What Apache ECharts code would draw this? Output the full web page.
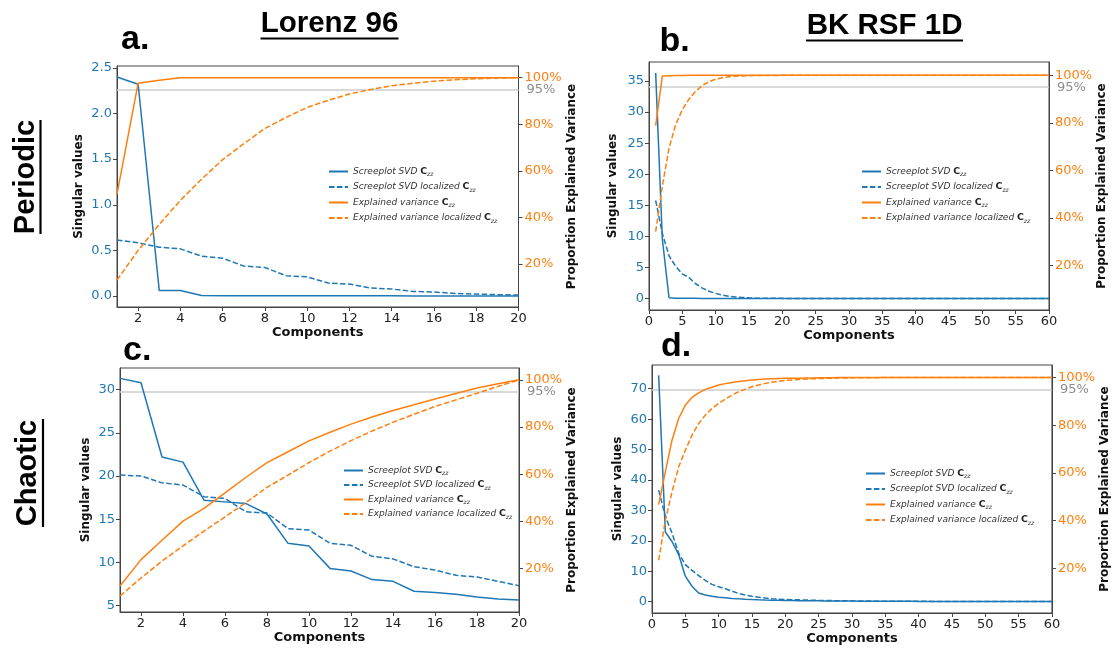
<!DOCTYPE html>
<html><head><meta charset="utf-8">
<script src="https://cdn.jsdelivr.net/npm/echarts@6/dist/echarts.min.js"></script>
<style>html,body{margin:0;padding:0;background:#fff}#chart{width:1112px;height:650px}</style>
</head><body><div id="chart"></div>
<script>
// ---------------- DATA ----------------
const compA = [1,2,3,4,5,6,7,8,9,10,11,12,13,14,15,16,17,18,19,20];
const compB = [1,2,3,4,5,6,7,8,9,10,11,12,13,14,15,16,17,18,19,20,21,22,23,24,25,26,27,28,29,30,
               31,32,33,34,35,36,37,38,39,40,41,42,43,44,45,46,47,48,49,50,51,52,53,54,55,56,57,58,59,60];

const columnTitles = ['Lorenz 96', 'BK RSF 1D'];
const rowTitles = ['Periodic', 'Chaotic'];
const panelLetters = ['a.', 'b.', 'c.', 'd.'];
const legendLabels = ['Screeplot SVD ', 'Screeplot SVD localized ', 'Explained variance ', 'Explained variance localized '];
const xTicks20 = [2,4,6,8,10,12,14,16,18,20];
const pctTicks = [20,40,60,80,100];
const aLeftTicks = [0,0.5,1,1.5,2,2.5];
const bLeftTicks = [0,5,10,15,20,25,30,35];
const cLeftTicks = [5,10,15,20,25,30];
const dLeftTicks = [0,10,20,30,40,50,60,70];

// Panel a: Lorenz 96, periodic
const aSv    = [2.40,2.32,0.06,0.06,0.005,0.004,0.004,0.003,0.003,0.003,0.002,0.002,0.002,0.002,0.001,0.001,0.001,0.001,0.001,0.001];
const aSvLoc = [0.615,0.583,0.535,0.517,0.437,0.415,0.328,0.313,0.222,0.211,0.142,0.131,0.088,0.077,0.051,0.044,0.029,0.022,0.015,0.011];
const aEv    = [50.0,97.6,98.9,100,100,100,100,100,100,100,100,100,100,100,100,100,100,100,100,100];
const aEvLoc = [13.1,25.8,37.0,47.3,56.4,64.8,71.6,78.2,82.9,87.2,90.3,93.0,94.9,96.5,97.6,98.5,99.1,99.5,99.8,100];

// Panel b: BK RSF 1D, periodic
const bSv    = [36.3,9.6,0.15,0.06,0.05,0.05,0.05,0.04,0.04,0.04,0.04,0.04,0.03,0.03,0.03,0.03,0.03,0.03,0.03,0.03,
                0.02,0.02,0.02,0.02,0.02,0.02,0.02,0.02,0.02,0.02,0.02,0.02,0.02,0.02,0.02,0.02,0.02,0.02,0.02,0.02,
                0.01,0.01,0.01,0.01,0.01,0.01,0.01,0.01,0.01,0.01,0.01,0.01,0.01,0.01,0.01,0.01,0.01,0.01,0.01,0.01];
const bSvLoc = [15.8,10.5,6.9,5.2,4.0,3.4,2.4,1.7,1.2,0.85,0.58,0.40,0.28,0.20,0.14,0.10,0.08,0.06,0.05,0.05,
                0.04,0.04,0.04,0.04,0.03,0.03,0.03,0.03,0.03,0.03,0.03,0.03,0.02,0.02,0.02,0.02,0.02,0.02,0.02,0.02,
                0.02,0.02,0.02,0.02,0.02,0.02,0.02,0.02,0.02,0.02,0.01,0.01,0.01,0.01,0.01,0.01,0.01,0.01,0.01,0.01];
const bEv    = [78.8,99.7,99.8,99.9,99.9,100,100,100,100,100,100,100,100,100,100,100,100,100,100,100,
                100,100,100,100,100,100,100,100,100,100,100,100,100,100,100,100,100,100,100,100,
                100,100,100,100,100,100,100,100,100,100,100,100,100,100,100,100,100,100,100,100];
const bEvLoc = [34.3,53.3,69.4,79.2,85.6,90.0,93.3,95.7,97.3,98.4,99.0,99.4,99.6,99.75,99.85,99.9,99.93,99.95,99.97,99.98,
                99.99,99.99,99.99,99.99,99.99,100,100,100,100,100,100,100,100,100,100,100,100,100,100,100,
                100,100,100,100,100,100,100,100,100,100,100,100,100,100,100,100,100,100,100,100];

// Panel c: Lorenz 96, chaotic
const cSv    = [31.3,30.8,22.2,21.6,17.2,17.0,16.8,15.6,12.2,11.9,9.3,9.0,8.0,7.8,6.65,6.5,6.3,6.0,5.75,5.65];
const cSvLoc = [20.1,20.0,19.2,18.95,17.6,17.4,15.85,15.7,13.9,13.75,12.2,11.97,10.7,10.4,9.5,9.1,8.5,8.3,7.8,7.3];
const cEv    = [12.6,23.8,32.0,40.1,45.5,52.1,58.7,64.9,69.5,74.1,77.8,81.2,84.2,87.0,89.4,91.9,94.2,96.5,98.3,100];
const cEvLoc = [8.4,16.0,23.2,29.6,35.9,41.9,48.0,54.4,59.6,64.9,69.8,74.2,78.3,82.0,85.4,88.7,91.5,94.3,97.2,100];

// Panel d: BK RSF 1D, chaotic
const dSv    = [74.4,22.9,19.8,15.5,8.4,5.1,2.9,2.2,1.8,1.5,1.3,1.1,0.95,0.82,0.72,0.64,0.57,0.51,0.46,0.42,
                0.39,0.36,0.33,0.31,0.29,0.27,0.25,0.24,0.22,0.21,0.20,0.19,0.18,0.17,0.16,0.15,0.14,0.14,0.13,0.12,
                0.12,0.11,0.10,0.10,0.09,0.09,0.08,0.08,0.07,0.07,0.07,0.06,0.06,0.06,0.05,0.05,0.05,0.04,0.04,0.04];
const dSvLoc = [36.7,28.0,22.6,16.0,12.2,10.3,8.6,7.0,5.7,4.9,4.25,3.5,2.7,2.2,1.8,1.5,1.2,1.0,0.85,0.75,
                0.68,0.62,0.56,0.50,0.45,0.41,0.37,0.34,0.31,0.28,0.26,0.24,0.22,0.20,0.19,0.18,0.17,0.16,0.15,0.14,
                0.13,0.12,0.11,0.10,0.10,0.09,0.09,0.08,0.08,0.07,0.07,0.07,0.06,0.06,0.06,0.05,0.05,0.05,0.04,0.04];
const dEv    = [46.7,60.4,73.7,82.8,88.4,91.6,93.5,95.0,95.9,96.8,97.4,97.9,98.3,98.6,98.9,99.1,99.3,99.4,99.5,99.6,
                99.65,99.7,99.75,99.8,99.84,99.87,99.9,99.92,99.94,99.95,99.96,99.97,99.97,99.98,99.98,99.98,99.99,99.99,99.99,99.99,
                100,100,100,100,100,100,100,100,100,100,100,100,100,100,100,100,100,100,100,100];
const dEvLoc = [23.4,40.1,52.0,62.5,69.5,75.8,80.7,84.2,87.0,89.1,90.9,92.6,94.0,95.1,96.1,96.8,97.5,98.0,98.4,98.7,
                98.95,99.15,99.3,99.42,99.52,99.6,99.66,99.72,99.77,99.81,99.84,99.87,99.89,99.91,99.93,99.94,99.95,99.96,99.97,99.975,
                99.98,99.98,99.98,99.98,99.98,99.99,99.99,99.99,99.99,99.99,100,100,100,100,100,100,100,100,100,100];

// ---------------- LAYOUT ----------------
const BLUE = '#1f77b4', ORANGE = '#ff7f0e';
const TICKFONT = 'DejaVu Sans';
const panels = [
  {id:'a', comp:compA, sv:aSv, svLoc:aSvLoc, ev:aEv, evLoc:aEvLoc,
   grid:{left:117, top:66, width:401.5, height:241},
   x:{min:1, max:20, ticks:xTicks20}, yl:{min:-0.12, max:2.52, ticks:aLeftTicks, dec:1, gap:32},
   yr:{min:1.5, max:105}, legend:{left:328, top:167, itemGap:5}},
  {id:'b', comp:compB, sv:bSv, svLoc:bSvLoc, ev:bEv, evLoc:bEvLoc,
   grid:{left:649, top:62, width:400, height:248},
   x:{min:0, max:60, interval:5}, yl:{min:-1.82, max:38.05, ticks:bLeftTicks, dec:0, gap:30},
   yr:{min:1.3, max:105.6}, legend:{left:861, top:167, itemGap:5}},
  {id:'c', comp:compA, sv:cSv, svLoc:cSvLoc, ev:cEv, evLoc:cEvLoc,
   grid:{left:120, top:368, width:399, height:244},
   x:{min:1, max:20, ticks:xTicks20}, yl:{min:4.25, max:32.5, ticks:cLeftTicks, dec:0, gap:28},
   yr:{min:1.6, max:105}, legend:{left:343, top:466, itemGap:4}},
  {id:'d', comp:compB, sv:dSv, svLoc:dSvLoc, ev:dEv, evLoc:dEvLoc,
   grid:{left:652, top:365, width:403, height:248},
   x:{min:0, max:60, interval:5}, yl:{min:-3.7, max:77.8, ticks:dLeftTicks, dec:0, gap:28},
   yr:{min:1.3, max:105.2}, legend:{left:865, top:469, itemGap:5}}
];

const grids = [], xAxes = [], yAxes = [], series = [], legends = [];
const pairs = (xs, ys) => xs.map((x, i) => [x, ys[i]]);
const nameStyle = {fontFamily:TICKFONT, fontWeight:'bold', color:'#111'};

panels.forEach((p, gi) => {
  grids.push(Object.assign({show:true, borderColor:'#444', borderWidth:1, containLabel:false}, p.grid));
  const xa = {type:'value', gridIndex:gi, min:p.x.min, max:p.x.max,
    name:'Components', nameLocation:'middle', nameGap:19,
    nameTextStyle:Object.assign({fontSize:13}, nameStyle),
    axisLine:{show:true, onZero:false, lineStyle:{color:'#444'}},
    axisTick:{show:true, length:4, lineStyle:{color:'#444'}},
    axisLabel:{color:'#222', fontFamily:TICKFONT, fontSize:13, margin:5},
    splitLine:{show:false}};
  if (p.x.ticks) { xa.axisTick.customValues = p.x.ticks; xa.axisLabel.customValues = p.x.ticks; }
  else { xa.interval = p.x.interval; }
  xAxes.push(xa);
  yAxes.push({type:'value', gridIndex:gi, position:'left', min:p.yl.min, max:p.yl.max,
    name:'Singular values', nameLocation:'middle', nameGap:p.yl.gap,
    nameTextStyle:Object.assign({fontSize:12}, nameStyle),
    axisLine:{show:true, onZero:false, lineStyle:{color:'#444'}},
    axisTick:{show:true, length:4, customValues:p.yl.ticks, lineStyle:{color:'#444'}},
    axisLabel:{color:BLUE, fontFamily:TICKFONT, fontSize:13, margin:5, customValues:p.yl.ticks,
      formatter:(v) => v.toFixed(p.yl.dec)},
    splitLine:{show:false}});
  yAxes.push({type:'value', gridIndex:gi, position:'right', min:p.yr.min, max:p.yr.max,
    name:'Proportion Explained Variance', nameLocation:'middle', nameGap:45, nameRotate:90,
    nameTextStyle:Object.assign({fontSize:12}, nameStyle),
    axisLine:{show:true, onZero:false, lineStyle:{color:'#444'}},
    axisTick:{show:true, length:4, customValues:pctTicks, lineStyle:{color:'#444'}},
    axisLabel:{color:ORANGE, fontFamily:TICKFONT, fontSize:13, margin:6, customValues:pctTicks,
      formatter:(v) => v + '%'},
    splitLine:{show:false}});

  const dash = [5.5, 2.4];
  series.push({name:p.id+'0', type:'line', xAxisIndex:gi, yAxisIndex:gi*2, data:pairs(p.comp, p.sv),
    symbol:'none', z:2, lineStyle:{color:BLUE, width:1.5}, itemStyle:{color:BLUE}});
  series.push({name:p.id+'1', type:'line', xAxisIndex:gi, yAxisIndex:gi*2, data:pairs(p.comp, p.svLoc),
    symbol:'none', z:2, lineStyle:{color:BLUE, width:1.5, type:dash}, itemStyle:{color:BLUE}});
  series.push({name:p.id+'2', type:'line', xAxisIndex:gi, yAxisIndex:gi*2+1, data:pairs(p.comp, p.ev),
    symbol:'none', z:3, lineStyle:{color:ORANGE, width:1.5}, itemStyle:{color:ORANGE},
    markLine:{silent:true, symbol:'none', z:1,
      lineStyle:{color:'#cccccc', width:1.5, type:'solid'},
      label:{show:true, position:'end', formatter:'95%', color:'#8c8c8c', fontFamily:TICKFONT, fontSize:13,
             distance:8, padding:[10,0,0,0]},
      data:[{yAxis:95}]}});
  series.push({name:p.id+'3', type:'line', xAxisIndex:gi, yAxisIndex:gi*2+1, data:pairs(p.comp, p.evLoc),
    symbol:'none', z:3, lineStyle:{color:ORANGE, width:1.5, type:dash}, itemStyle:{color:ORANGE}});

  legends.push({orient:'vertical', left:p.legend.left, top:p.legend.top, itemGap:p.legend.itemGap,
    itemWidth:19, itemHeight:10, selectedMode:false, padding:0,
    itemStyle:{opacity:0},
    data:[p.id+'0', p.id+'1', p.id+'2', p.id+'3'],
    formatter:(name) => '{t|' + legendLabels[+name.slice(1)] + '}{c|C}{s|zz}',
    textStyle:{rich:{
      t:{fontFamily:TICKFONT, fontStyle:'italic', fontSize:9, color:'#333', lineHeight:12},
      c:{fontFamily:TICKFONT, fontWeight:'bold', fontSize:9.4, color:'#222', lineHeight:12},
      s:{fontFamily:TICKFONT, fontStyle:'italic', fontSize:6, color:'#333', lineHeight:7, verticalAlign:'bottom'}
    }}});
});

const TFONT = 'bold 29.5px "Liberation Sans", Arial, sans-serif';
const LFONT = 'bold 34px "Liberation Sans", Arial, sans-serif';
const RFONT = 'bold 29px "Liberation Sans", Arial, sans-serif';
const graphics = [
  {type:'text', x:329.5, y:23.5, style:{text:columnTitles[0], font:TFONT, fill:'#000', align:'center', verticalAlign:'middle'}},
  {type:'line', shape:{x1:260.5, y1:38.5, x2:398.5, y2:38.5}, style:{stroke:'#000', lineWidth:2.2}},
  {type:'text', x:884.6, y:25.5, style:{text:columnTitles[1], font:TFONT, fill:'#000', align:'center', verticalAlign:'middle'}},
  {type:'line', shape:{x1:806, y1:40.5, x2:963, y2:40.5}, style:{stroke:'#000', lineWidth:2.2}},
  {type:'text', x:121, y:40, style:{text:panelLetters[0], font:LFONT, fill:'#000', align:'left', verticalAlign:'middle'}},
  {type:'text', x:659.6, y:41.5, style:{text:panelLetters[1], font:LFONT, fill:'#000', align:'left', verticalAlign:'middle'}},
  {type:'text', x:123, y:350.5, style:{text:panelLetters[2], font:LFONT, fill:'#000', align:'left', verticalAlign:'middle'}},
  {type:'text', x:661, y:346.5, style:{text:panelLetters[3], font:LFONT, fill:'#000', align:'left', verticalAlign:'middle'}},
  {type:'text', x:26, y:177, rotation:Math.PI/2, style:{text:rowTitles[0], font:RFONT, fill:'#000', align:'center', verticalAlign:'middle'}},
  {type:'line', shape:{x1:40.5, y1:120, x2:40.5, y2:234}, style:{stroke:'#000', lineWidth:2.2}},
  {type:'text', x:27.5, y:473, rotation:Math.PI/2, style:{text:rowTitles[1], font:RFONT, fill:'#000', align:'center', verticalAlign:'middle'}},
  {type:'line', shape:{x1:43, y1:419, x2:43, y2:527}, style:{stroke:'#000', lineWidth:2.2}}
];

const chart = echarts.init(document.getElementById('chart'), null, {renderer:'canvas'});
chart.setOption({
  animation:false,
  backgroundColor:'#fff',
  grid:grids, xAxis:xAxes, yAxis:yAxes, series:series, legend:legends,
  graphic:graphics
});
</script></body></html>
